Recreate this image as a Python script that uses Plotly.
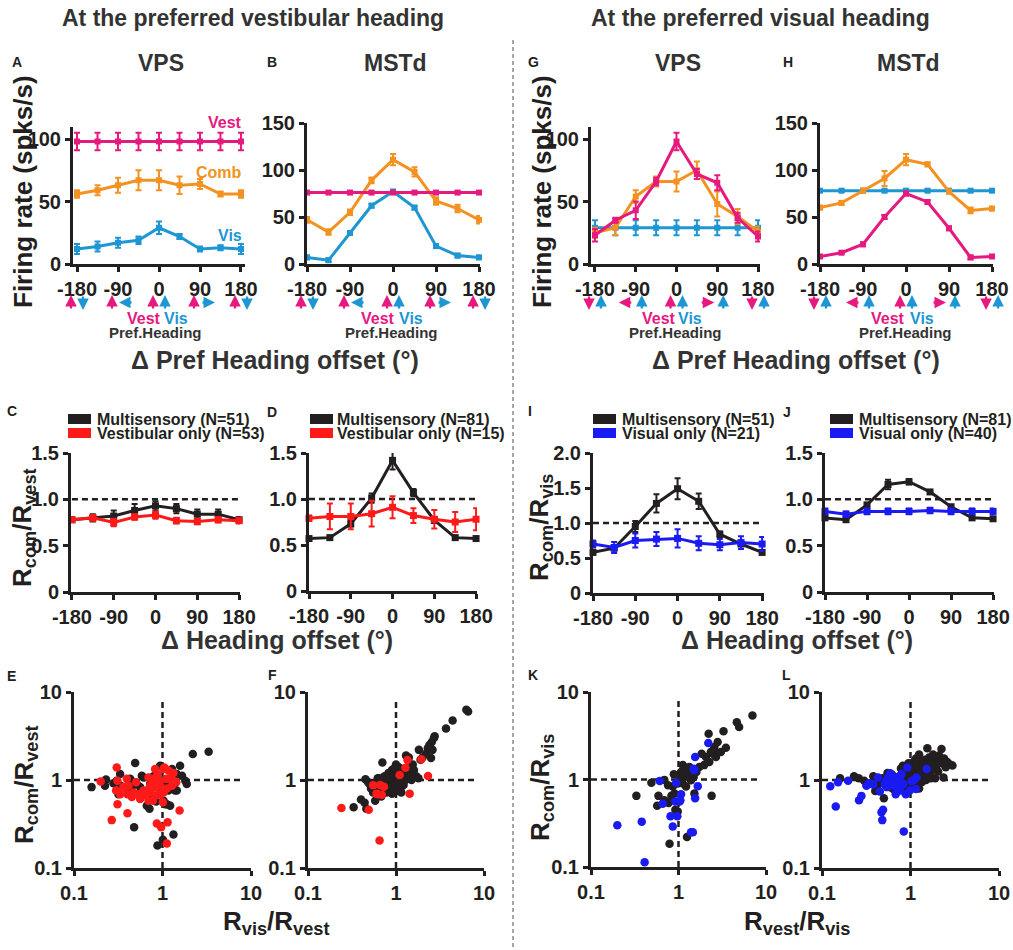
import plotly.graph_objects as go

W, H = 1013, 950
FONT = "Liberation Sans, Arial, Helvetica, sans-serif"
INK = "#231F20"
PINK = "#E6197F"
ORANGE = "#F39221"
SKY = "#1E96D3"
RED = "#FF1A1A"
BLUE = "#1A1AF2"

# ---------------- data ----------------
heading = [-180, -135, -90, -45, 0, 45, 90, 135, 180]
heading_ticks = [-180, -90, 0, 90, 180]
heading_ticktext = ["-180", "-90", "0", "90", "180"]

# A: VPS, preferred vestibular heading (spks/s)
a_vest = [98, 98, 98, 98, 98, 98, 98, 98, 98]
a_vest_err = [7, 7, 7, 7, 7, 7, 7, 7, 7]
a_comb = [56, 59, 63, 67, 67, 63, 64, 56, 56]
a_comb_err = [3, 4, 6, 8, 8, 7, 4, 2, 3]
a_vis = [12, 14, 17, 19, 29, 22, 12, 13, 12]
a_vis_err = [4, 4, 4, 3, 5, 2, 2, 2, 4]

# B: MSTd, preferred vestibular heading
b_vest = [76, 76, 76, 76, 76, 76, 76, 76, 76]
b_vest_err = [1, 1, 1, 1, 1, 1, 1, 1, 1]
b_comb = [47, 34, 55, 89, 111, 98, 67, 59, 47]
b_comb_err = [3, 3, 3, 3, 6, 5, 4, 4, 4]
b_vis = [7, 4, 33, 62, 77, 60, 19, 9, 7]
b_vis_err = [2, 2, 2, 2, 2, 2, 2, 2, 2]

# G: VPS, preferred visual heading
g_vis = [29, 29, 29, 29, 29, 29, 29, 29, 29]
g_vis_err = [6, 6, 6, 6, 6, 6, 6, 6, 6]
g_comb = [25, 29, 54, 66, 66, 75, 48, 38, 26]
g_comb_err = [4, 6, 5, 4, 8, 7, 10, 6, 4]
g_vest = [23, 35, 43, 66, 98, 72, 65, 37, 22]
g_vest_err = [5, 2, 7, 3, 7, 4, 6, 4, 4]

# H: MSTd, preferred visual heading
h_vis = [78, 78, 78, 78, 78, 78, 78, 78, 78]
h_vis_err = [1, 1, 1, 1, 1, 1, 1, 1, 1]
h_comb = [60, 65, 78, 91, 111, 106, 77, 57, 59]
h_comb_err = [2, 2, 2, 8, 6, 2, 2, 3, 2]
h_vest = [8, 12, 21, 50, 75, 66, 38, 7, 8]
h_vest_err = [1, 1, 2, 2, 2, 2, 2, 2, 1]

# C/D: Rcom/Rvest ; I/J: Rcom/Rvis
c_multi = [0.78, 0.80, 0.82, 0.88, 0.93, 0.90, 0.84, 0.84, 0.78]
c_multi_err = [0.02, 0.04, 0.06, 0.07, 0.05, 0.05, 0.05, 0.05, 0.03]
c_single = [0.78, 0.80, 0.75, 0.81, 0.83, 0.77, 0.76, 0.78, 0.77]
c_single_err = [0.02, 0.03, 0.04, 0.03, 0.04, 0.03, 0.03, 0.03, 0.03]

d_multi = [0.57, 0.58, 0.73, 1.01, 1.42, 1.07, 0.77, 0.58, 0.57]
d_multi_err = [0.02, 0.02, 0.03, 0.05, 0.10, 0.04, 0.03, 0.02, 0.02]
d_single = [0.79, 0.81, 0.81, 0.84, 0.91, 0.82, 0.78, 0.75, 0.78]
d_single_err = [0.03, 0.14, 0.14, 0.14, 0.12, 0.08, 0.10, 0.11, 0.12]

i_multi = [0.58, 0.64, 0.95, 1.28, 1.49, 1.31, 0.84, 0.70, 0.58]
i_multi_err = [0.03, 0.03, 0.08, 0.13, 0.15, 0.11, 0.04, 0.03, 0.03]
i_single = [0.70, 0.65, 0.75, 0.77, 0.78, 0.71, 0.69, 0.72, 0.70]
i_single_err = [0.05, 0.08, 0.10, 0.10, 0.13, 0.10, 0.08, 0.09, 0.10]

j_multi = [0.80, 0.78, 0.94, 1.16, 1.19, 1.08, 0.92, 0.80, 0.79]
j_multi_err = [0.02, 0.02, 0.02, 0.05, 0.03, 0.02, 0.02, 0.02, 0.02]
j_single = [0.87, 0.84, 0.87, 0.87, 0.87, 0.88, 0.87, 0.87, 0.87]
j_single_err = [0.03, 0.03, 0.03, 0.03, 0.03, 0.03, 0.03, 0.03, 0.03]

# E: VPS, Rvis/Rvest vs Rcom/Rvest
e_multi_x = [0.158, 0.23, 0.224, 0.332, 0.337, 0.318, 0.395, 0.45, 0.491, 0.461, 0.559, 0.584, 0.61,
             0.665, 0.695, 0.713, 0.757, 0.791, 0.863, 0.848, 0.877, 0.925, 0.941, 0.982, 1.03, 1.07,
             1.12, 1.17, 1.22, 1.28, 1.33, 1.39, 1.45, 1.58, 1.66, 1.81, 1.88, 2.2, 3.32, 0.478, 1.33,
             1.01, 1.07, 1.17, 1.12, 0.725, 0.304, 0.279, 0.431, 0.512, 1.45]
e_multi_y = [0.83, 1.01, 0.86, 1.17, 0.86, 0.69, 0.79, 0.83, 1.56, 0.94, 0.83, 1.12, 1.07, 0.51,
             0.64, 0.47, 0.83, 1.10, 1.03, 0.57, 0.18, 0.86, 1.45, 0.72, 0.58, 0.53, 0.53, 0.76,
             0.51, 1.33, 0.83, 0.76, 1.17, 1.45, 1.12, 0.98, 0.90, 1.97, 2.09, 0.29, 0.24, 0.21,
             0.79, 1.03, 0.94, 0.90, 0.98, 0.92, 1.03, 0.90, 0.76]
e_single_x = [0.2, 0.304, 0.31, 0.299, 0.31, 0.267, 0.395, 0.412, 0.402, 0.402, 0.47, 0.503, 0.535,
              0.559, 0.637, 0.665, 0.695, 0.725, 0.738, 0.778, 0.805, 0.826, 0.848, 0.863, 0.863,
              0.877, 0.925, 0.941, 0.957, 0.966, 1.01, 1.03, 1.05, 1.10, 1.12, 1.14, 1.12, 1.17,
              1.22, 1.28, 1.33, 1.39, 1.43, 1.56, 0.863, 0.757, 0.695, 0.61, 0.45, 0.362, 0.332,
              1.03, 0.826]
e_single_y = [0.96, 1.39, 0.98, 0.76, 0.53, 0.35, 1.03, 0.86, 0.69, 0.42, 0.72, 0.94, 0.69, 0.61,
              0.67, 0.76, 0.58, 0.86, 0.72, 0.58, 1.04, 0.90, 0.83, 0.67, 0.32, 1.17, 0.96, 0.86,
              0.69, 0.29, 0.56, 1.33, 1.39, 1.03, 0.80, 0.33, 0.19, 1.28, 1.03, 0.86, 1.20, 0.96,
              0.94, 0.45, 0.98, 0.94, 1.07, 0.76, 0.64, 0.83, 0.69, 0.72, 1.33]

# F: MSTd, Rvis/Rvest vs Rcom/Rvest
f_multi_x = [0.33, 0.40, 0.44, 0.46, 0.45, 0.48, 0.50, 0.52, 0.55, 0.58, 0.60, 0.62, 0.64, 0.66,
             0.68, 0.70, 0.70, 0.72, 0.74, 0.75, 0.77, 0.78, 0.80, 0.82, 0.83, 0.85, 0.86, 0.88,
             0.90, 0.90, 0.92, 0.94, 0.96, 0.97, 0.98, 1.00, 1.00, 1.02, 1.04, 1.05, 1.07, 1.08,
             1.10, 1.12, 1.14, 1.16, 1.18, 1.20, 1.22, 1.25, 1.28, 1.30, 1.32, 1.35, 1.40, 1.42,
             1.45, 1.50, 1.55, 1.60, 1.70, 1.80, 1.82, 1.90, 2.00, 2.20, 2.30, 2.40, 2.50, 2.55,
             2.60, 2.70, 2.75, 3.70, 4.40, 6.30, 6.60, 0.62, 0.85, 1.15, 0.95]
f_multi_y = [0.49, 0.60, 0.55, 0.47, 1.02, 0.95, 0.90, 0.80, 0.72, 0.58, 0.95, 0.85, 1.05, 0.75,
             0.65, 1.58, 0.95, 0.88, 1.10, 0.80, 1.00, 0.72, 0.92, 1.20, 0.85, 1.05, 0.78, 0.95,
             1.30, 0.70, 1.10, 0.88, 1.00, 0.82, 1.15, 1.50, 0.95, 0.75, 1.05, 1.25, 0.90, 1.40,
             1.00, 0.78, 1.15, 0.95, 1.30, 1.05, 0.88, 1.20, 1.00, 1.90, 1.10, 1.35, 1.80, 1.05,
             1.20, 1.00, 1.50, 1.30, 1.10, 1.05, 2.20, 1.70, 1.80, 2.00, 2.30, 2.50, 1.78, 2.70,
             2.20, 3.00, 3.15, 3.85, 4.75, 6.30, 6.00, 1.05, 1.15, 0.72, 1.35]
f_single_x = [0.24, 0.49, 0.65, 0.55, 0.62, 0.66, 0.69, 0.73, 0.60, 1.10, 1.28, 1.35, 1.43, 1.94, 2.31]
f_single_y = [0.48, 0.46, 0.205, 0.87, 0.69, 0.88, 0.68, 0.84, 0.70, 1.14, 1.38, 1.69, 0.70, 1.72, 1.11]

# K: VPS, Rvest/Rvis vs Rcom/Rvis
k_multi_x = [0.33, 0.49, 0.59, 0.57, 0.69, 0.77, 0.79, 0.83, 0.86, 0.885, 0.92, 0.98, 1.04, 1.07,
             1.12, 1.17, 1.22, 1.28, 1.33, 1.25, 1.39, 1.49, 1.52, 1.73, 1.84, 2.06, 2.21, 2.25,
             2.39, 2.46, 2.52, 2.57, 2.68, 2.80, 3.05, 3.27, 3.48, 4.64, 4.93, 7.0, 0.69, 0.76,
             0.98, 1.12, 1.22, 1.39, 1.60, 1.96, 2.34, 2.16, 0.90]
k_multi_y = [0.65, 0.92, 0.65, 0.50, 0.58, 0.54, 0.184, 0.65, 0.83, 1.15, 0.45, 0.43, 1.0, 1.22,
             1.46, 1.30, 1.09, 1.19, 1.39, 0.22, 1.28, 1.07, 0.69, 1.39, 1.97, 1.81, 3.33, 1.59,
             0.65, 1.97, 2.19, 2.35, 1.81, 2.68, 2.06, 3.57, 2.31, 4.52, 3.97, 5.38, 0.99, 0.86,
             0.90, 0.90, 0.83, 0.98, 1.22, 1.46, 2.06, 1.59, 0.69]
k_single_x = [0.20, 0.38, 0.41, 0.61, 0.66, 0.81, 0.86, 0.92, 0.97, 0.94, 1.03, 1.07, 1.05, 1.39,
              1.46, 1.52, 1.55, 1.55, 1.66, 2.19, 1.49]
k_single_y = [0.30, 0.33, 0.113, 0.96, 0.53, 0.38, 0.29, 0.56, 0.38, 0.92, 0.56, 0.68, 0.58, 0.25,
              0.25, 1.28, 1.81, 0.61, 0.84, 2.61, 1.33]

# L: MSTd, Rvest/Rvis vs Rcom/Rvis
l_multi_x = [0.16, 0.23, 0.26, 0.30, 0.32, 0.36, 0.38, 0.40, 0.42, 0.45, 0.48, 0.50, 0.52, 0.55,
             0.58, 0.60, 0.62, 0.65, 0.68, 0.70, 0.72, 0.75, 0.78, 0.80, 0.82, 0.85, 0.88, 0.90,
             0.92, 0.95, 0.98, 1.00, 1.02, 1.05, 1.05, 1.08, 1.10, 1.12, 1.15, 1.18, 1.20, 1.22,
             1.25, 1.28, 1.30, 1.32, 1.35, 1.38, 1.55, 1.42, 1.45, 1.50, 1.52, 1.55, 1.60, 1.62,
             1.65, 1.70, 1.75, 1.80, 1.85, 1.90, 1.95, 2.00, 2.05, 2.10, 2.24, 2.25, 2.36, 2.40,
             2.50, 2.60, 2.80, 2.98, 1.15, 0.95, 1.25, 1.70, 0.85, 1.45, 0.60]
l_multi_y = [1.05, 1.10, 1.05, 0.98, 0.88, 0.92, 1.10, 0.75, 0.85, 0.95, 1.05, 0.62, 0.88, 1.20,
             0.95, 1.05, 1.15, 0.78, 0.92, 1.00, 0.82, 1.10, 1.35, 0.95, 1.45, 1.20, 0.78, 1.05,
             1.30, 0.90, 1.15, 1.50, 1.05, 1.25, 0.85, 1.60, 1.00, 1.35, 0.90, 1.20, 1.45, 1.05,
             0.80, 1.30, 1.60, 1.10, 0.95, 1.40, 2.29, 1.20, 1.70, 1.00, 1.50, 1.30, 1.10, 1.80,
             1.45, 1.25, 1.60, 1.95, 1.35, 1.05, 1.70, 1.50, 1.25, 1.90, 2.25, 1.55, 1.07, 1.75,
             1.40, 1.60, 1.50, 1.46, 1.75, 1.55, 1.95, 1.05, 1.00, 1.15, 0.82]
l_single_x = [0.124, 0.143, 0.152, 0.197, 0.262, 0.279, 0.318, 0.34, 0.378, 0.43, 0.45, 0.47, 0.49,
              0.48, 0.51, 0.56, 0.59, 0.64, 0.67, 0.68, 0.71, 0.72, 0.76, 0.77, 0.83, 0.84, 0.885,
              0.92, 0.98, 1.03, 1.09, 1.15, 1.17, 1.52, 0.61, 0.54, 0.58, 0.79, 0.65, 0.53]
l_single_y = [0.85, 0.50, 0.94, 0.98, 0.59, 0.66, 0.86, 0.92, 0.89, 1.07, 0.74, 0.43, 0.46, 0.35,
              0.90, 1.07, 1.19, 0.97, 1.07, 0.69, 0.83, 0.98, 1.07, 0.76, 0.90, 0.26, 0.69, 1.39,
              0.76, 0.97, 1.00, 0.79, 1.07, 1.33, 0.98, 0.83, 0.86, 1.17, 0.86, 0.98]

# ---------------- layout helpers ----------------
def fx(p):
    return p / W


def fy(p):
    return 1 - p / H


fig = go.Figure()

# name, plot box in px (left, right), (top, bottom), x range, y range, kind
PANELS = [
    ("A", (73, 245), (127, 264), [-188.8, 188.8], [0, 109.6], "tuning"),
    ("B", (307, 480), (123, 264), [-180, 182], [0, 150], "tuning"),
    ("G", (591, 760), (127, 264), [-188.8, 184.4], [0, 109.6], "tuning"),
    ("H", (820, 993), (123, 264), [-180, 182], [0, 150], "tuning"),
    ("C", (71, 240), (453, 592), [-182, 182], [0, 1.5], "ratio"),
    ("D", (309, 477), (453, 591), [-180, 182], [0, 1.5], "ratio"),
    ("I", (593, 764), (453, 593), [-180, 184], [0, 2.0], "ratio"),
    ("J", (825, 994), (453, 592), [-180, 182], [0, 1.5], "ratio"),
    ("E", (74, 251), (692, 868), [-1, 1], [-1, 1], "log"),
    ("F", (308, 484), (692, 868), [-1, 1], [-1, 1], "log"),
    ("K", (591, 766), (692, 867), [-1, 1], [-1, 1], "log"),
    ("L", (822, 999), (692, 868), [-1, 1], [-1, 1], "log"),
]

YTICKS = {
    "A": ([0, 50, 100], ["0", "50", "100"]),
    "B": ([0, 50, 100, 150], ["0", "50", "100", "150"]),
    "G": ([0, 50, 100], ["0", "50", "100"]),
    "H": ([0, 50, 100, 150], ["0", "50", "100", "150"]),
    "C": ([0, 0.5, 1, 1.5], ["0", "0.5", "1.0", "1.5"]),
    "D": ([0, 0.5, 1, 1.5], ["0", "0.5", "1.0", "1.5"]),
    "I": ([0, 0.5, 1, 1.5, 2], ["0", "0.5", "1.0", "1.5", "2.0"]),
    "J": ([0, 0.5, 1, 1.5], ["0", "0.5", "1.0", "1.5"]),
}

tickfont = dict(family=FONT, size=20, color=INK, weight="bold")
common = dict(showline=True, linecolor=INK, linewidth=3, ticks="outside", ticklen=5,
              tickwidth=2.5, tickcolor=INK, showgrid=False, zeroline=False,
              fixedrange=True, automargin=False, tickfont=tickfont)

REF = {}
for n, (name, (l, r), (t, b), xr, yr, kind) in enumerate(PANELS, start=1):
    sfx = "" if n == 1 else str(n)
    REF[name] = ("x" + sfx, "y" + sfx)
    xa = dict(common, domain=[fx(l), fx(r)], range=xr, anchor="y" + sfx)
    ya = dict(common, domain=[fy(b), fy(t)], range=yr, anchor="x" + sfx)
    if kind == "log":
        xa.update(type="log", tickvals=[0.1, 1, 10], ticktext=["0.1", "1", "10"])
        ya.update(type="log", tickvals=[0.1, 1, 10], ticktext=["0.1", "1", "10"])
    else:
        xa.update(tickvals=heading_ticks, ticktext=heading_ticktext)
        ya.update(tickvals=YTICKS[name][0], ticktext=YTICKS[name][1])
    fig.update_layout(**{"xaxis" + sfx: xa, "yaxis" + sfx: ya})


def curve(name, y, err, color, width=3, msize=6):
    xr, yr = REF[name]
    fig.add_trace(go.Scatter(
        x=heading, y=y, mode="lines+markers", xaxis=xr, yaxis=yr,
        line=dict(color=color, width=width),
        marker=dict(color=color, size=msize, symbol="square"),
        error_y=dict(type="data", array=err, color=color, thickness=2, width=3),
        cliponaxis=False, showlegend=False, hoverinfo="skip"))


def unity(name, x, y):
    xr, yr = REF[name]
    fig.add_trace(go.Scatter(
        x=x, y=y, mode="lines", xaxis=xr, yaxis=yr,
        line=dict(color=INK, width=2.5, dash="6px,4px"),
        cliponaxis=False, showlegend=False, hoverinfo="skip"))


def dots(name, x, y, color):
    xr, yr = REF[name]
    fig.add_trace(go.Scatter(
        x=x, y=y, mode="markers", xaxis=xr, yaxis=yr,
        marker=dict(color=color, size=8.5, line=dict(width=0)),
        cliponaxis=False, showlegend=False, hoverinfo="skip"))


# tuning curves
curve("A", a_vis, a_vis_err, SKY)
curve("A", a_comb, a_comb_err, ORANGE)
curve("A", a_vest, a_vest_err, PINK)
curve("B", b_vis, b_vis_err, SKY)
curve("B", b_comb, b_comb_err, ORANGE)
curve("B", b_vest, b_vest_err, PINK)
curve("G", g_vis, g_vis_err, SKY)
curve("G", g_comb, g_comb_err, ORANGE)
curve("G", g_vest, g_vest_err, PINK)
curve("H", h_vis, h_vis_err, SKY)
curve("H", h_comb, h_comb_err, ORANGE)
curve("H", h_vest, h_vest_err, PINK)

# response ratios
for name, multi, merr, single, serr, col in [
    ("C", c_multi, c_multi_err, c_single, c_single_err, RED),
    ("D", d_multi, d_multi_err, d_single, d_single_err, RED),
    ("I", i_multi, i_multi_err, i_single, i_single_err, BLUE),
    ("J", j_multi, j_multi_err, j_single, j_single_err, BLUE),
]:
    unity(name, [-180, 180], [1, 1])
    curve(name, multi, merr, INK, msize=7)
    curve(name, single, serr, col, msize=7)

# scatter plots
for name, mx, my, sx, sy, col in [
    ("E", e_multi_x, e_multi_y, e_single_x, e_single_y, RED),
    ("F", f_multi_x, f_multi_y, f_single_x, f_single_y, RED),
    ("K", k_multi_x, k_multi_y, k_single_x, k_single_y, BLUE),
    ("L", l_multi_x, l_multi_y, l_single_x, l_single_y, BLUE),
]:
    unity(name, [0.1, 8.2], [1, 1])
    unity(name, [1, 1], [0.1, 7.9])
    dots(name, mx, my, INK)
    dots(name, sx, sy, col)


# ---------------- text ----------------
def label(text, x, y, size, color=INK, angle=0, xanchor="center"):
    fig.add_annotation(text=text, x=fx(x), y=fy(y), xref="paper", yref="paper",
                       showarrow=False, textangle=angle, xanchor=xanchor, yanchor="middle",
                       font=dict(family=FONT, size=size, color=color, weight="bold"))


label("At the preferred vestibular heading", 253, 18, 23, "#333333")
label("At the preferred visual heading", 760, 18, 23, "#333333")

for txt, x, y in [("A", 17, 62), ("B", 272, 62), ("G", 533, 62), ("H", 788, 62),
                  ("C", 12, 411), ("D", 272, 412), ("I", 530, 411), ("J", 787, 412),
                  ("E", 11, 676), ("F", 272, 675), ("K", 533, 675), ("L", 786, 675)]:
    label(txt, x, y, 14)

for txt, x in [("VPS", 161), ("MSTd", 395), ("VPS", 678), ("MSTd", 908)]:
    label(txt, x, 63, 23, "#333333")

label("Firing rate (spks/s)", 23, 192, 26, angle=-90)
label("Firing rate (spks/s)", 542, 192, 26, angle=-90)
label("\u0394 Pref Heading offset (°)", 275, 360, 25, "#333333")
label("\u0394 Pref Heading offset (°)", 796, 360, 25, "#333333")
label("R<sub>com</sub>/R<sub>vest</sub>", 23, 528, 26, angle=-90)
label("R<sub>com</sub>/R<sub>vis</sub>", 540, 528, 26, angle=-90)
label("\u0394 Heading offset (°)", 277, 640, 25, "#333333")
label("\u0394 Heading offset (°)", 797, 640, 25, "#333333")
label("R<sub>com</sub>/R<sub>vest</sub>", 25, 785, 26, angle=-90)
label("R<sub>com</sub>/R<sub>vis</sub>", 541, 788, 26, angle=-90)
label("R<sub>vis</sub>/R<sub>vest</sub>", 276, 922, 26)
label("R<sub>vest</sub>/R<sub>vis</sub>", 797, 922, 26)

# curve names in A
label("Vest", 244, 122, 16, PINK, xanchor="right")
label("Comb", 244, 172, 16, ORANGE, xanchor="right")
label("Vis", 244, 235, 16, SKY, xanchor="right")

# preferred-heading keys under the tuning panels
for vest_x, vis_x, pref_x in [(144, 176, 155), (378, 411, 391), (659, 690, 675), (888, 922, 905)]:
    label("Vest", vest_x, 318, 16, PINK)
    label("Vis", vis_x, 318, 16, SKY)
    label("Pref.Heading", pref_x, 332, 15, "#333333")

# heading-direction arrows below each tick
ARROWS_VEST_PANELS = [("up", "down"), ("up", "left"), ("up", "up"), ("up", "right"), ("up", "down")]
ARROWS_VIS_PANELS = [("down", "up"), ("left", "up"), ("up", "up"), ("right", "up"), ("down", "up")]


def arrow(name, tick, shift, direction, color):
    xr, _ = REF[name]
    yc, half = 302.5, 7.5
    if direction == "up":
        hx, hy, ax, ay = 0, yc - half, 0, 2 * half
    elif direction == "down":
        hx, hy, ax, ay = 0, yc + half, 0, -2 * half
    elif direction == "left":
        hx, hy, ax, ay = -7, yc, 14, 0
    else:
        hx, hy, ax, ay = 7, yc, -14, 0
    fig.add_annotation(text="", x=tick, y=fy(hy), xref=xr, yref="paper",
                       xshift=shift + hx, ax=ax, ay=ay, axref="pixel", ayref="pixel",
                       showarrow=True, arrowhead=2, arrowsize=1.0, arrowwidth=2.3,
                       arrowcolor=color, standoff=0, startstandoff=0)


for name, dirs in [("A", ARROWS_VEST_PANELS), ("B", ARROWS_VEST_PANELS),
                   ("G", ARROWS_VIS_PANELS), ("H", ARROWS_VIS_PANELS)]:
    for tick, (pd, bd) in zip(heading_ticks, dirs):
        p_shift = -10 if pd in ("left", "right") else -6
        b_shift = 8 if bd in ("left", "right") else 6
        arrow(name, tick, p_shift, pd, PINK)
        arrow(name, tick, b_shift, bd, SKY)

# legends for the ratio panels
LEGENDS = [
    (68, 95, "Multisensory (N=51)", "Vestibular only (N=53)", RED),
    (310, 335, "Multisensory (N=81)", "Vestibular only (N=15)", RED),
    (593, 620, "Multisensory (N=51)", "Visual only (N=21)", BLUE),
    (830, 857, "Multisensory (N=81)", "Visual only (N=40)", BLUE),
]
for rx, tx, t1, t2, col in LEGENDS:
    for (yc, txt, c) in [(419, t1, INK), (433, t2, col)]:
        fig.add_shape(type="rect", xref="paper", yref="paper",
                      x0=fx(rx), x1=fx(rx + 23), y0=fy(yc + 5), y1=fy(yc - 5),
                      fillcolor=c, line=dict(width=0))
        label(txt, tx, yc, 16, xanchor="left")

# separator between the two halves
fig.add_shape(type="line", xref="paper", yref="paper", x0=fx(513), x1=fx(513),
              y0=fy(40), y1=fy(950), line=dict(color="#8A8A8A", width=1.5, dash="4px,3px"))

fig.update_layout(width=W, height=H,
                  margin=dict(l=0, r=0, t=0, b=0, pad=0, autoexpand=False),
                  paper_bgcolor="white", plot_bgcolor="white",
                  font=dict(family=FONT, color=INK), showlegend=False)

fig.write_html("out.html", config={"displayModeBar": False})
